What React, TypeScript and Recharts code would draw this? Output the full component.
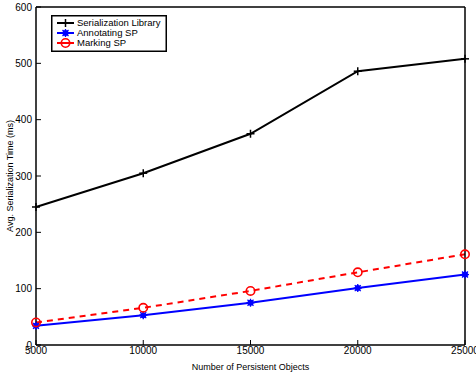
import React from 'react';
import { LineChart, Line, XAxis, YAxis } from 'recharts';

const objects = [5000, 10000, 15000, 20000, 25000];
const serializationLibrary = [245, 305, 375, 486, 508];
const annotatingSP = [34, 53, 75, 101, 125];
const markingSP = [40, 66, 96, 129, 161];
const xTicks = [5000, 10000, 15000, 20000, 25000];
const yTicks = [0, 100, 200, 300, 400, 500, 600];

const data = objects.map((x, i) => ({
  x,
  ser: serializationLibrary[i],
  ann: annotatingSP[i],
  mark: markingSP[i],
}));

const FONT = '"Liberation Sans", Arial, Helvetica, sans-serif';

const PlusDot = (props: any) => {
  const { cx, cy } = props;
  if (cx == null || cy == null) return null;
  return (
    <g>
      <line x1={cx - 4} y1={cy} x2={cx + 4} y2={cy} stroke="#000" strokeWidth={1.5} />
      <line x1={cx} y1={cy - 4} x2={cx} y2={cy + 4} stroke="#000" strokeWidth={1.5} />
    </g>
  );
};

const StarDot = (props: any) => {
  const { cx, cy } = props;
  if (cx == null || cy == null) return null;
  return (
    <g>
      <circle cx={cx} cy={cy} r={3} fill="#0000ff" />
      <line x1={cx - 4} y1={cy} x2={cx + 4} y2={cy} stroke="#0000ff" strokeWidth={1.3} />
      <line x1={cx} y1={cy - 4} x2={cx} y2={cy + 4} stroke="#0000ff" strokeWidth={1.3} />
      <line x1={cx - 3} y1={cy - 3} x2={cx + 3} y2={cy + 3} stroke="#0000ff" strokeWidth={1.3} />
      <line x1={cx - 3} y1={cy + 3} x2={cx + 3} y2={cy - 3} stroke="#0000ff" strokeWidth={1.3} />
    </g>
  );
};

const CircleDot = (props: any) => {
  const { cx, cy } = props;
  if (cx == null || cy == null) return null;
  return <circle cx={cx} cy={cy} r={4.2} fill="none" stroke="#ff0000" strokeWidth={1.6} />;
};

const legendItems = [
  { name: 'Serialization Library', color: '#000', Dot: PlusDot },
  { name: 'Annotating SP', color: '#0000ff', Dot: StarDot },
  { name: 'Marking SP', color: '#ff0000', Dot: CircleDot },
];

const LegendBox = () => (
  <svg width={116} height={37} style={{ display: 'block' }}>
    <rect x={0.75} y={0.75} width={114.5} height={35.5} fill="#fff" stroke="#000" strokeWidth={1.5} />
    {legendItems.map((it, i) => {
      const y = 8 + i * 10;
      const D = it.Dot;
      return (
        <g key={it.name}>
          <line x1={6} y1={y} x2={23} y2={y} stroke={it.color} strokeWidth={2} />
          <D cx={14.5} cy={y} />
          <text x={26} y={y + 3.3} fontSize={9.5} fontFamily={FONT} fill="#000">
            {it.name}
          </text>
        </g>
      );
    })}
  </svg>
);

const YLabel = (props: any) => {
  const vb = props.viewBox || {};
  const cy = vb.y + vb.height / 2;
  const cx = 10;
  return (
    <text
      x={cx}
      y={cy}
      transform={`rotate(-90, ${cx}, ${cy})`}
      textAnchor="middle"
      dominantBaseline="central"
      fontSize={9}
      fontFamily={FONT}
      fill="#000"
    >
      Avg. Serialization Time (ms)
    </text>
  );
};

export default function App() {
  const tickStyle = { fontSize: 10, fontFamily: FONT, fill: '#000' };
  return (
    <div style={{ position: 'absolute', left: 0, top: 0, width: 476, height: 377, background: '#fff' }}>
      <LineChart
        width={476}
        height={377}
        data={data}
        margin={{ top: 0, right: 6, left: 0, bottom: 0 }}
      >
        <XAxis
          xAxisId="bottom"
          dataKey="x"
          type="number"
          domain={[5000, 25000]}
          ticks={xTicks}
          interval={0}
          height={32}
          tickSize={-5}
          tickMargin={7}
          axisLine={{ stroke: '#000', strokeWidth: 1.5 }}
          tickLine={{ stroke: '#000' }}
          tick={tickStyle}
          label={{
            value: 'Number of Persistent Objects',
            position: 'insideBottom',
            offset: 7,
            style: { fontSize: 9, fontFamily: FONT, fill: '#000' },
          }}
        />
        <XAxis
          xAxisId="top"
          orientation="top"
          dataKey="x"
          type="number"
          domain={[5000, 25000]}
          ticks={xTicks}
          interval={0}
          height={7}
          tickSize={-5}
          tick={false}
          axisLine={{ stroke: '#000', strokeWidth: 1.5 }}
          tickLine={{ stroke: '#000' }}
        />
        <YAxis
          yAxisId="left"
          type="number"
          domain={[0, 600]}
          ticks={yTicks}
          interval={0}
          width={36}
          tickSize={-5}
          tickMargin={9}
          axisLine={{ stroke: '#000', strokeWidth: 1.5 }}
          tickLine={{ stroke: '#000' }}
          tick={tickStyle}
          label={<YLabel />}
        />
        <YAxis
          yAxisId="right"
          orientation="right"
          type="number"
          domain={[0, 600]}
          ticks={yTicks}
          interval={0}
          width={5}
          tickSize={-5}
          tick={false}
          axisLine={{ stroke: '#000', strokeWidth: 1.5 }}
          tickLine={{ stroke: '#000' }}
        />
        <Line
          xAxisId="top"
          yAxisId="right"
          dataKey="ser"
          name="Serialization Library"
          stroke="#000"
          strokeWidth={2}
          dot={<PlusDot />}
          isAnimationActive={false}
        />
        <Line
          xAxisId="bottom"
          yAxisId="left"
          dataKey="ann"
          name="Annotating SP"
          stroke="#0000ff"
          strokeWidth={2}
          dot={<StarDot />}
          isAnimationActive={false}
        />
        <Line
          xAxisId="bottom"
          yAxisId="left"
          dataKey="mark"
          name="Marking SP"
          stroke="#ff0000"
          strokeWidth={2}
          strokeDasharray="6 5"
          dot={<CircleDot />}
          isAnimationActive={false}
        />
      </LineChart>
      <div style={{ position: 'absolute', left: 51, top: 15 }}>
        <LegendBox />
      </div>
    </div>
  );
}
